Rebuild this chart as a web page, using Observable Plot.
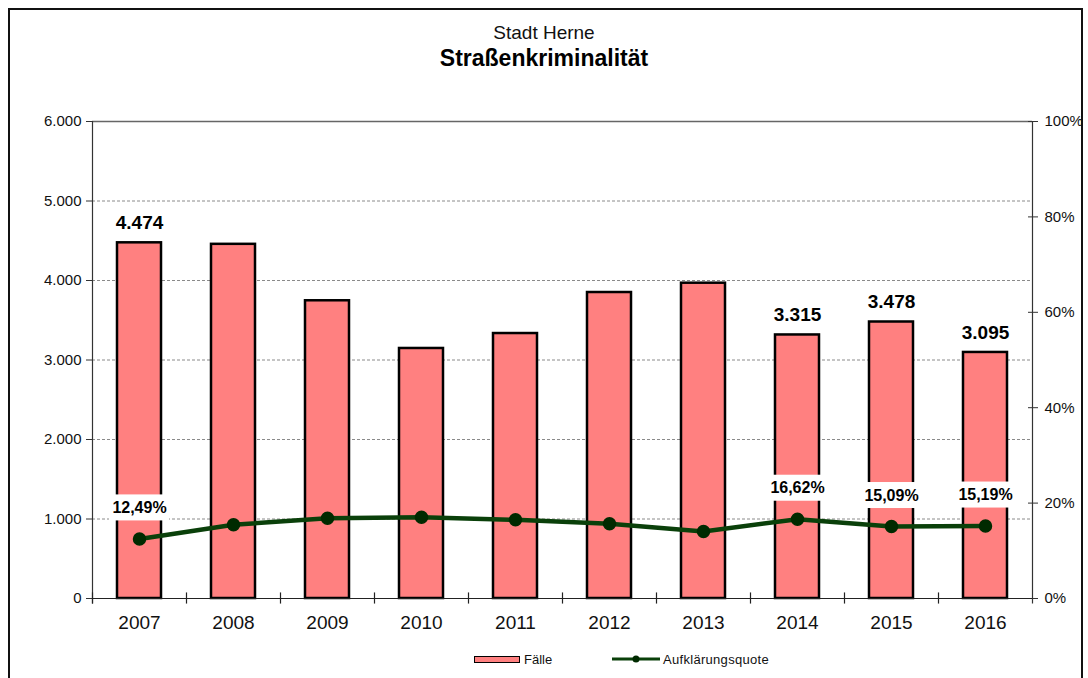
<!DOCTYPE html>
<html>
<head>
<meta charset="utf-8">
<script src="https://cdn.jsdelivr.net/npm/d3@7"></script>
<script src="https://cdn.jsdelivr.net/npm/@observablehq/plot@0.6"></script>
<style>
  html, body { margin: 0; padding: 0; background: #fff; }
  body { width: 1088px; height: 678px; overflow: hidden; position: relative; font-family: "Liberation Sans", Arial, sans-serif; }
  #frame { position: absolute; left: 8px; top: 8px; width: 1075px; height: 700px; border: 2px solid #111; box-sizing: border-box; }
  #chart { position: absolute; left: 0; top: 0; }
  .t1 { position: absolute; left: 0; width: 1088px; text-align: center; top: 22px; font-size: 19px; color: #111; }
  .t2 { position: absolute; left: 0; width: 1088px; text-align: center; top: 45px; font-size: 23px; font-weight: bold; color: #000; }
  #legend { position: absolute; top: 650px; left: 474px; font-size: 13px; color: #111; }
  .item { position: absolute; top: 0; white-space: nowrap; display: flex; align-items: center; height: 18px; }
</style>
</head>
<body>
<div id="frame"></div>
<div id="chart"></div>
<div class="t1">Stadt Herne</div>
<div class="t2">Straßenkriminalität</div>
<div id="legend"></div>
<script>
// ---- data ----
const years = ["2007","2008","2009","2010","2011","2012","2013","2014","2015","2016"];
const faelle = [4474, 4455, 3745, 3145, 3333, 3849, 3966, 3315, 3478, 3095];
const quote = [12.49, 15.45, 16.83, 17.05, 16.50, 15.66, 14.05, 16.62, 15.09, 15.19];
const labeledYears = ["2007","2014","2015","2016"];
const leftTicks = [0, 1000, 2000, 3000, 4000, 5000, 6000];
const rightTicks = [0, 20, 40, 60, 80, 100];
const seriesNames = ["Fälle", "Aufklärungsquote"];

const barColor = "#FF8080";
const lineColor = "#0a400a";
const dotColor = "#002a00";

const yMax = 6000;
const pctToY = p => p / 100 * yMax;
const fmtNum = v => d3.format(",")(v).replace(/,/g, ".");
const fmtPct = v => v.toFixed(2).replace(".", ",") + "%";

const rows = years.map((y, i) => ({year: y, faelle: faelle[i], quote: quote[i], yq: pctToY(quote[i])}));
const labeled = rows.filter(d => labeledYears.includes(d.year));
const last = years[years.length - 1];
const first = years[0];

const W = 1088, H = 678;
const mL = 92, mR = 56, mT = 121, mB = 80;
const step = (W - mL - mR) / years.length;
const labelDy = -31;

const chart = Plot.plot({
  width: W,
  height: H,
  marginLeft: mL,
  marginRight: mR,
  marginTop: mT,
  marginBottom: mB,
  style: {fontFamily: "'Liberation Sans', Arial, sans-serif", background: "transparent", color: "#111"},
  x: {type: "band", domain: years, padding: 0, axis: null},
  y: {domain: [0, yMax], axis: null},
  marks: [
    // dashed grid
    Plot.ruleY(leftTicks.filter(t => t > 0 && t < yMax), {stroke: "#8a8a8a", strokeDasharray: "3,2", strokeWidth: 1}),
    Plot.ruleY([yMax], {stroke: "#666", strokeWidth: 1.5}),
    // left axis
    Plot.axisY({anchor: "left", ticks: leftTicks, tickSize: 6, tickPadding: 5, tickFormat: fmtNum, fontSize: 15, stroke: "#333"}),
    Plot.ruleX([first], {dx: -step / 2, y1: -70, y2: yMax, stroke: "#333", strokeWidth: 1.2}),
    // right axis
    Plot.axisY({anchor: "right", ticks: rightTicks.map(pctToY), tickSize: 10, dx: -5, tickPadding: 7, tickFormat: d => Math.round(d / yMax * 100) + "%", fontSize: 15, stroke: "#333"}),
    Plot.ruleX([last], {dx: step / 2, y1: -70, y2: yMax, stroke: "#333", strokeWidth: 1.2}),
    // bars
    Plot.barY(rows, {x: "year", y: "faelle", fill: barColor, stroke: "#000", strokeWidth: 2.5, insetLeft: 25, insetRight: 25}),
    // bottom axis
    Plot.ruleY([0], {stroke: "#222", strokeWidth: 1.2}),
    Plot.ruleX(years, {x: d => d, dx: -step / 2, y1: -70, y2: 70, stroke: "#222", strokeWidth: 1.2}),
    Plot.text(years, {x: d => d, y: 0, dy: 24, text: d => d, fontSize: 19, fill: "#111"}),
    // bar labels
    Plot.text(labeled, {x: "year", y: "faelle", dy: -20, text: d => fmtNum(d.faelle), fontSize: 19, fontWeight: "bold", fill: "#000"}),
    // line
    Plot.line(rows, {x: "year", y: "yq", stroke: lineColor, strokeWidth: 4.5}),
    Plot.dot(rows, {x: "year", y: "yq", r: 6, fill: dotColor, stroke: dotColor}),
    // white boxes behind percentage labels
    Plot.barY(labeled, {x: "year", y1: "yq", y2: "yq", fill: "#fff", insetLeft: 17, insetRight: 17, insetTop: labelDy - 13, insetBottom: -labelDy - 13}),
    // pct labels
    Plot.text(labeled, {x: "year", y: "yq", dy: labelDy, text: d => fmtPct(d.quote), fontSize: 16, fontWeight: "bold", fill: "#000"})
  ]
});
document.getElementById("chart").appendChild(chart);

// legend
const lg = document.getElementById("legend");
lg.innerHTML = `
  <div class="item" style="left:0px"><span style="display:inline-block;width:44px;height:5px;background:${barColor};border:1.5px solid #000;margin-right:4px"></span>${seriesNames[0]}</div>
  <div class="item" style="left:138px"><svg width="48" height="12" style="margin-right:3px"><line x1="0" y1="6" x2="48" y2="6" stroke="${lineColor}" stroke-width="3"/><circle cx="24" cy="6" r="3.5" fill="${dotColor}"/></svg><span style="letter-spacing:0.3px">${seriesNames[1]}</span></div>
`;
</script>
</body>
</html>
